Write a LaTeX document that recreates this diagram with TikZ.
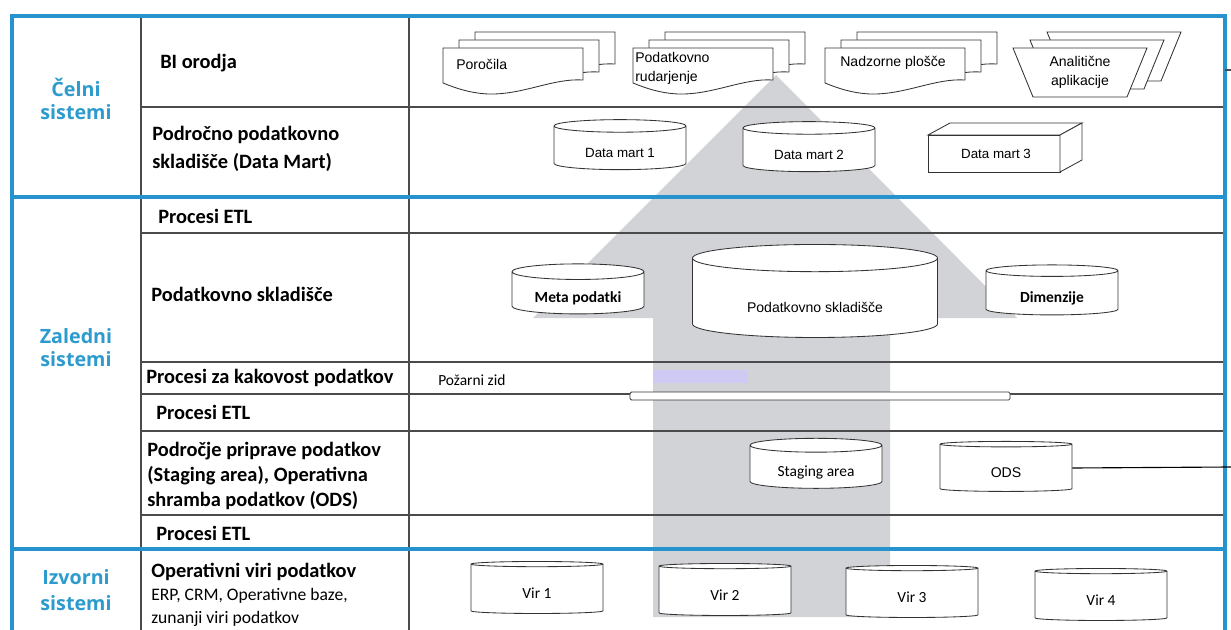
\documentclass[tikz,border=0pt]{standalone}
\usepackage{fontspec}
\setmainfont{Carlito}
\newfontfamily\arialfont{Liberation Sans}
\newfontfamily\sidefont{Open Sans}
\usetikzlibrary{shapes.geometric}
\definecolor{frameblue}{RGB}{38,146,206}
\definecolor{sideblue}{RGB}{45,155,205}
\definecolor{arrowgray}{RGB}{210,211,214}
\definecolor{lavender}{RGB}{206,202,244}
\definecolor{linegray}{RGB}{75,75,75}

\begin{document}
\begin{tikzpicture}[
    x=0.025cm, y=-0.025cm,
    frame/.style={
        frameblue,
        line width=2.2pt
    },
    rowline/.style={
        linegray,
        line width=1pt
    },
    shapeline/.style={
        draw=black!80,
        fill=white,
        line width=0.6pt
    },
    head/.style={
        anchor=west,
        inner sep=0pt,
        align=left,
        font=\fontsize{14.5}{17.5}\selectfont\bfseries
    },
    side/.style={
        inner sep=0pt,
        align=center,
        text=sideblue,
        font=\sidefont\fontsize{14}{16.5}\selectfont\bfseries
    },
    db/.style={
        cylinder,
        shape border rotate=90,
        shapeline,
        aspect=0.18,
        minimum width=3.3cm,
        minimum height=1.25cm,
        inner sep=0pt,
        text height=14pt,
        text depth=0pt,
        font=\fontsize{11}{13}\selectfont
    },
    doclabel/.style={
        inner sep=0pt,
        align=left,
        font=\arialfont\fontsize{10}{13.5}\selectfont
    },
    docpage/.pic={
        \path[shapeline] (0,0) -- (140,0) -- (140,32)
            .. controls (110,30) and (80,47) .. (45,46)
            .. controls (25,45) and (10,39) .. (0,35) -- cycle;
    },
    apppage/.pic={
        \path[shapeline] (0,0) -- (134,0) -- (114,49) -- (20,49) -- cycle;
    }
]

\fill[white] (0,0) rectangle (1231,630);
\useasboundingbox (0,0) rectangle (1231,630);

% ---------------- Big arrow ----------------
\fill[arrowgray] (653,617) -- (653,318) -- (533,318) -- (776,75)
    -- (1017,318) -- (890,318) -- (890,617) -- cycle;
\fill[lavender] (653,370) rectangle (748,383);

% ---------------- Table ----------------
\draw[rowline] (141,16) -- (141,630);
\draw[rowline] (409,16) -- (409,630);
\draw[rowline] (141,107) -- (1225,107);
\draw[rowline] (141,233) -- (1225,233);
\draw[rowline] (141,362) -- (1225,362);
\draw[rowline] (141,394) -- (1225,394);
\draw[rowline] (141,431) -- (1225,431);
\draw[rowline] (141,515) -- (1225,515);
\draw[frame] (12,630) -- (12,16) -- (1225,16) -- (1225,630);
\draw[frame] (12,197) -- (1225,197);
\draw[frame] (12,549) -- (1225,549);

% ---------------- Left column ----------------
\node[side] (celni) at (76,99) {Čelni\\sistemi};
\node[side] (zaledni) at (76,348) {Zaledni\\sistemi};
\node[side, font=\sidefont\fontsize{14}{18.5}\selectfont\bfseries] (izvorni) at (76,590) {Izvorni\\sistemi};

% ---------------- Middle column ----------------
\node[head] (biorodja) at (160,63) {BI orodja};
\node[head, font=\fontsize{14.5}{20}\selectfont\bfseries] (martlayer) at (152,149)
    {Področno podatkovno\\skladišče (Data Mart)};
\node[head] (etlone) at (158,216) {Procesi ETL};
\node[head] (dwlayer) at (151,294) {Podatkovno skladišče};
\node[head] (qualitylayer) at (146,378) {Procesi za kakovost podatkov};
\node[head] (etltwo) at (156,412) {Procesi ETL};
\node[head, font=\fontsize{14.5}{18}\selectfont\bfseries] (staginglayer) at (147,476)
    {Področje priprave podatkov\\(Staging area), Operativna\\shramba podatkov (ODS)};
\node[head] (etlthree) at (156,533) {Procesi ETL};
\node[head] (sourcelayer) at (151,572) {Operativni viri podatkov};
\node[head, font=\fontsize{12.5}{16.4}\selectfont] (sourcelist) at (151,607)
    {ERP, CRM, Operativne baze,\\zunanji viri podatkov};

% ---------------- BI orodja ----------------
\pic at (475,32) {docpage};
\pic at (459,40) {docpage};
\pic at (443,48) {docpage};
\node[doclabel, anchor=west] (reports) at (456,64) {Poročila};

\pic at (665,32) {docpage};
\pic at (649,40) {docpage};
\pic at (633,48) {docpage};
\node[doclabel, anchor=west] (mining) at (635,68) {Podatkovno\\rudarjenje};

\pic at (857,32) {docpage};
\pic at (841,40) {docpage};
\pic at (825,48) {docpage};
\node[doclabel, anchor=west] (dashboards) at (840,63) {Nadzorne plošče};

\pic at (1047,32) {apppage};
\pic at (1030,40) {apppage};
\pic at (1013,48) {apppage};
\node[doclabel, align=center] (apps) at (1080,72) {Analitične\\aplikacije};

% ---------------- Data marts ----------------
\node[db, font=\arialfont\fontsize{9.5}{11}\selectfont] (dmone) at (620,148) {Data mart 1};
\node[db, font=\arialfont\fontsize{9.5}{11}\selectfont] (dmtwo) at (809,150) {Data mart 2};
\path[shapeline] (928,135) -- (1060,135) -- (1060,172) -- (928,172) -- cycle;
\path[shapeline] (928,135) -- (950,123) -- (1082,123) -- (1060,135) -- cycle;
\path[shapeline] (1060,135) -- (1082,123) -- (1082,160) -- (1060,172) -- cycle;
\node[inner sep=0pt, font=\arialfont\fontsize{9.5}{11}\selectfont] (dmthree) at (996,154) {Data mart 3};

% ---------------- Data warehouse ----------------
\node[db, font=\fontsize{11}{13}\selectfont\bfseries] (meta) at (578,293) {Meta podatki};
\node[db, minimum width=6.125cm, minimum height=2.325cm, aspect=0.2, text height=20pt,
    font=\arialfont\fontsize{10}{12}\selectfont] (warehouse) at (815,298) {Podatkovno skladišče};
\node[db, font=\fontsize{11}{13}\selectfont\bfseries] (dims) at (1052,293) {Dimenzije};

% ---------------- Firewall ----------------
\node[anchor=west, inner sep=0pt, font=\fontsize{11}{13}\selectfont] (firewall) at (438,380) {Požarni zid};
\draw[shapeline, rounded corners=1pt] (630,392) rectangle (1010,400);

% ---------------- Staging / ODS ----------------
\node[db] (staging) at (816,467) {Staging area};
\node[db, font=\arialfont\fontsize{10}{12}\selectfont] (ods) at (1006,468) {ODS};
\coordinate (odsend) at (1231,467);
\draw[black, line width=0.8pt] (ods.east) -- (odsend);
\coordinate (tickstart) at (1225,70);
\coordinate (tickend) at (1231,70);
\draw[linegray, line width=0.8pt] (tickstart) -- (tickend);

% ---------------- Sources ----------------
\node[db, minimum height=1.3cm] (virone) at (537,589) {Vir 1};
\node[db, minimum height=1.3cm] (virtwo) at (725,591) {Vir 2};
\node[db, minimum height=1.3cm] (virthree) at (912,593) {Vir 3};
\node[db, minimum height=1.3cm] (virfour) at (1101,596) {Vir 4};

\end{tikzpicture}
\end{document}
